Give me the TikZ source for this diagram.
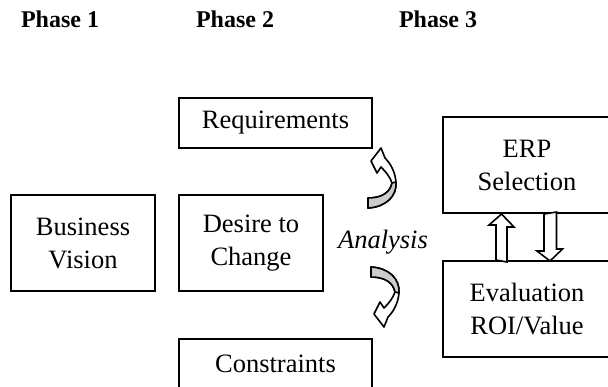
\documentclass[tikz,border=0pt]{standalone}
\usepackage{fontspec}
\setmainfont{Liberation Serif}
\usetikzlibrary{calc}
\tikzset{
    phase label/.style={font=\fontsize{12}{14}\selectfont\bfseries},
    stage box/.style={rectangle, draw, line width=1pt, inner sep=0pt, align=center, font=\fontsize{13.25}{16.5}\selectfont},
    big box/.style={stage box, minimum width=72pt, minimum height=48pt},
    wide box/.style={stage box, minimum width=96.5pt, minimum height=25pt},
    erp box/.style={stage box, minimum width=84pt, minimum height=48pt},
    analysis label/.style={font=\fontsize{13.25}{16.5}\selectfont\itshape},
    block arrow/.style={draw, line width=0.8pt, fill=white, line join=miter},
    twist line/.style={draw, line width=0.8pt, line join=round},
    pics/twist arrow/.style={code={
        % white band with its head
        \path[twist line, fill=white] (0,5) .. controls (18,4) and (29,-7) .. (28,-21)
            .. controls (27,-31) and (23,-39) .. (17,-45) -- (13,-55) -- (3,-42) -- (9,-30) -- (13,-36)
            .. controls (18,-31) and (22,-26) .. (24,-20)
            .. controls (22,-10) and (13,-5) .. (0,-5) -- cycle;
        % shaded back of the band
        \path[twist line, fill=gray!40] (28,-21) .. controls (29,-7) and (18,4) .. (0,5)
            -- (0,-5) .. controls (13,-5) and (22,-10) .. (24,-20) -- cycle;
    }}
}

\begin{document}
\begin{tikzpicture}[x=0.5pt, y=-0.5pt]
    \useasboundingbox (0,0) rectangle (608,386);

    % Phase headings
    \node[phase label] (p1) at (60,19) {Phase 1};
    \node[phase label] (p2) at (235,19) {Phase 2};
    \node[phase label] (p3) at (438,19) {Phase 3};

    % Phase 1 and 2 boxes
    \node[big box] (bv) at (83,243) {Business\\Vision};
    \node[big box] (dc) at (251,243) {Desire to\\Change};
    \node[wide box] (req) at (275.5,123) {Requirements};
    \node[wide box] (con) at (275.5,364) {Constraints};

    % Analysis with its two curved arrows
    \node[analysis label] (ana) at (383,242) {Analysis};
    \pic at (368,203) {twist arrow};
    \pic[yscale=-1] at (371,272) {twist arrow};

    % Phase 3 boxes
    \node[erp box] (erp) at (527,165) {ERP\\Selection};
    \node[erp box] (eval) at (527,309) {Evaluation\\ROI/Value};

    % up and down block arrows between ERP and evaluation
    \draw[block arrow] ($(eval.north west)+(54,0)$) -- ++(0,-35) -- ++(-7,0)
        -- ($(erp.south west)+(59.5,0)$) -- ++(12.5,13) -- ++(-7,0) -- ++(0,35) -- cycle;
    \draw[block arrow] ($(erp.south west)+(102,0)$) -- ++(0,37) -- ++(-7,0)
        -- ($(eval.north west)+(108,1)$) -- ++(12.5,-12) -- ++(-6,0) -- ++(0,-37) -- cycle;
\end{tikzpicture}
\end{document}
